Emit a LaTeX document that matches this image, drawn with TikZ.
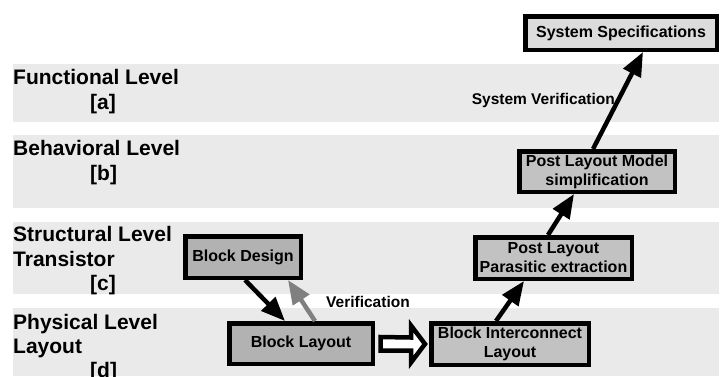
\documentclass[tikz,border=0pt]{standalone}
\usepackage{fontspec}
\setmainfont{Liberation Sans}
\usetikzlibrary{arrows.meta,calc}
\definecolor{bandgray}{HTML}{EAEAEA}
\definecolor{specfill}{HTML}{DCDCDC}
\definecolor{midfill}{HTML}{C2C2C2}
\definecolor{darkfill}{HTML}{B2B2B2}
\definecolor{arrowgray}{HTML}{808080}
\begin{document}
\begin{tikzpicture}[x=1pt,y=-1pt,
  band/.style={fill=bandgray,draw=none},
  lvl/.style={anchor=base west,inner sep=0pt,font=\fontsize{21}{25}\selectfont\bfseries},
  blk/.style={draw=black,line width=4.5pt,inner sep=0pt,align=center,font=\fontsize{16}{19}\selectfont\bfseries},
  conn/.style={line width=4.5pt,-{Triangle[length=24pt,width=19pt]}},
  lbl/.style={inner sep=0pt,font=\fontsize{15.5}{18}\selectfont\bfseries},
  hollow/.style={draw=black,fill=white,line width=4.5pt,line join=miter}]
\useasboundingbox (0,0) rectangle (722,376);
\fill[white] (0,0) rectangle (722,376);
% bands
\path[band] (13,64) rectangle (719,122);
\path[band] (13,135) rectangle (719,208);
\path[band] (13,221.5) rectangle (719,294);
\path[band] (13,308) rectangle (719,376);
% level labels
\node[lvl] (fa) at (13,84.3) {Functional Level};
\node[lvl] (fb) at (90,109) {[a]};
\node[lvl] (ba) at (13,155) {Behavioral Level};
\node[lvl] (bb) at (90,180) {[b]};
\node[lvl] (sa) at (13,241.7) {Structural Level};
\node[lvl] (sb) at (13,266.5) {Transistor};
\node[lvl] (sc) at (90,290.5) {[c]};
\node[lvl] (pa) at (13,329.5) {Physical Level};
\node[lvl] (pb) at (13,353) {Layout};
\node[lvl] (pc) at (90,377.5) {[d]};
% boxes
\node[blk,fill=specfill,minimum width=191.5,minimum height=33.5] (SS) at (621,33) {System Specifications};
\node[blk,fill=midfill,minimum width=155.5,minimum height=40.5] (PLM) at (597,171.5) {Post Layout Model\\simplification};
\node[blk,fill=midfill,minimum width=156.5,minimum height=41.5] (PPE) at (553.5,258) {Post Layout\\Parasitic extraction};
\node[blk,fill=midfill,minimum width=157.5,minimum height=41.5] (BIL) at (510,344) {Block Interconnect\\Layout};
\node[blk,fill=darkfill,minimum width=143.5,minimum height=40.5] (BL) at (301,343.5) {Block Layout};
\node[blk,fill=darkfill,minimum width=115.5,minimum height=41.5] (BD) at (243,257) {Block Design};
% labels
\node[lbl,anchor=base east] (sv) at (615,104) {System Verification};
\node[lbl,anchor=base west] (ver) at (326,307) {Verification};
% connectors
\draw[conn] ([xshift=2]BD.south) -- ([xshift=-16]BL.north);
\draw[conn,draw=arrowgray] ([xshift=14]BL.north) -- ([xshift=45]BD.south);
\draw[conn] ([xshift=-14]BIL.north) -- ([xshift=-29.5]PPE.south);
\draw[conn] ([xshift=-5.5]PPE.north) -- ([xshift=-23]PLM.south);
\draw[conn] ([xshift=-4]PLM.north) -- ([xshift=22]SS.south);
% hollow block arrow
\draw[hollow] ($(BL.east)+(5.5,-6.5)$) -- ($(BIL.west)+(-18,-6.5)$) -- ($(BIL.west)+(-18,-18.5)$) -- ($(BIL.west)+(-4,0)$) -- ($(BIL.west)+(-18,18.5)$) -- ($(BIL.west)+(-18,6.5)$) -- ($(BL.east)+(5.5,7)$) -- cycle;
\end{tikzpicture}
\end{document}
